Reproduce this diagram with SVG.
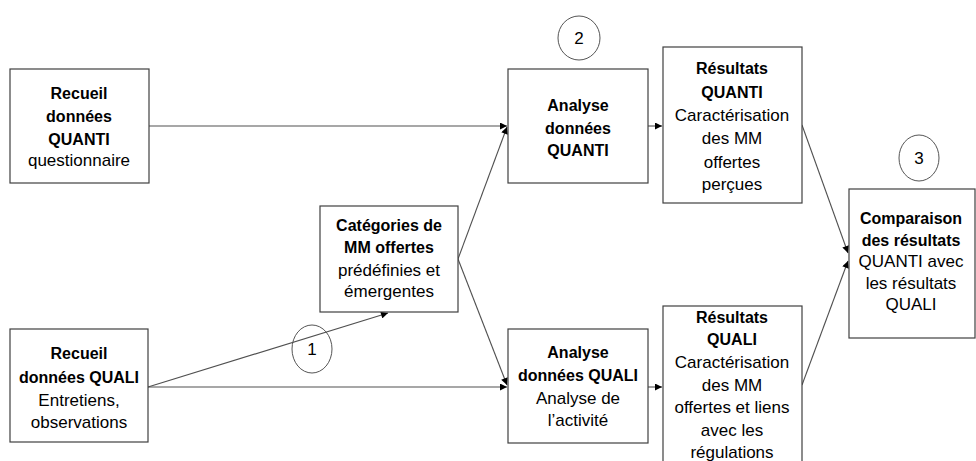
<svg xmlns="http://www.w3.org/2000/svg" width="976" height="461" viewBox="0 0 976 461">
<defs>
<style>
.box{fill:#fff;stroke:#404040;stroke-width:1.2}
.circ{fill:none;stroke:#555;stroke-width:1}
.ln{fill:none;stroke:#505050;stroke-width:1.1}
text{font-family:"Liberation Sans",Arial,sans-serif;font-size:17px;fill:#000;text-anchor:middle}
.b{font-weight:bold;font-size:16px}
</style>
<marker id="ah" viewBox="0 0 10 10" refX="10" refY="5" markerWidth="8" markerHeight="7" markerUnits="userSpaceOnUse" orient="auto">
<path d="M0,0 L10,5 L0,10 z" fill="#000"/>
</marker>
</defs>
<rect width="976" height="461" fill="#fff"/>
<g id="connectors">
<line class="ln" x1="149" y1="126" x2="507" y2="126" marker-end="url(#ah)"/>
<line class="ln" x1="148" y1="387" x2="507" y2="387" marker-end="url(#ah)"/>
<line class="ln" x1="148" y1="387" x2="388" y2="313" marker-end="url(#ah)"/>
<line class="ln" x1="458" y1="259" x2="507" y2="127" marker-end="url(#ah)"/>
<line class="ln" x1="458" y1="259" x2="507" y2="385" marker-end="url(#ah)"/>
<line class="ln" x1="648" y1="126" x2="662" y2="126" marker-end="url(#ah)"/>
<line class="ln" x1="648" y1="387" x2="662" y2="387" marker-end="url(#ah)"/>
<line class="ln" x1="802" y1="125" x2="848" y2="253" marker-end="url(#ah)"/>
<line class="ln" x1="802" y1="385" x2="848" y2="261" marker-end="url(#ah)"/>
</g>
<g id="recueil-quanti">
<rect class="box" x="10" y="69" width="139" height="114"/>
<text class="b" x="79" y="99">Recueil</text>
<text class="b" x="79" y="122">données</text>
<text class="b" x="79" y="145">QUANTI</text>
<text x="79" y="166">questionnaire</text>
</g>
<g id="recueil-quali">
<rect class="box" x="10" y="329" width="138" height="113"/>
<text class="b" x="79" y="359">Recueil</text>
<text class="b" x="79" y="383">données QUALI</text>
<text x="79" y="406">Entretiens,</text>
<text x="79" y="428">observations</text>
</g>
<g id="categories">
<rect class="box" x="320" y="206" width="138" height="106"/>
<text class="b" x="389" y="231">Catégories de</text>
<text class="b" x="389" y="253">MM offertes</text>
<text x="389" y="276">prédéfinies et</text>
<text x="389" y="297">émergentes</text>
</g>
<g id="analyse-quanti">
<rect class="box" x="508" y="69" width="140" height="114"/>
<text class="b" x="578" y="111">Analyse</text>
<text class="b" x="578" y="134">données</text>
<text class="b" x="578" y="156">QUANTI</text>
</g>
<g id="analyse-quali">
<rect class="box" x="508" y="329" width="140" height="114"/>
<text class="b" x="578" y="358">Analyse</text>
<text class="b" x="578" y="381">données QUALI</text>
<text x="578" y="404">Analyse de</text>
<text x="578" y="426">l’activité</text>
</g>
<g id="resultats-quanti">
<rect class="box" x="663" y="47" width="139" height="156"/>
<text class="b" x="732" y="74">Résultats</text>
<text class="b" x="732" y="98">QUANTI</text>
<text x="732" y="121">Caractérisation</text>
<text x="732" y="144">des MM</text>
<text x="732" y="168">offertes</text>
<text x="732" y="190">perçues</text>
</g>
<g id="resultats-quali">
<rect class="box" x="663" y="306" width="139" height="170"/>
<text class="b" x="732" y="323">Résultats</text>
<text class="b" x="732" y="345">QUALI</text>
<text x="732" y="368">Caractérisation</text>
<text x="732" y="391">des MM</text>
<text x="732" y="413">offertes et liens</text>
<text x="732" y="436">avec les</text>
<text x="732" y="458">régulations</text>
</g>
<g id="comparaison">
<rect class="box" x="849" y="189" width="126" height="149"/>
<text class="b" x="911" y="224">Comparaison</text>
<text class="b" x="911" y="246">des résultats</text>
<text x="911" y="267">QUANTI avec</text>
<text x="911" y="289">les résultats</text>
<text x="911" y="310">QUALI</text>
</g>
<g id="circle-1">
<ellipse class="circ" cx="312" cy="349" rx="20" ry="24"/>
<text x="312" y="355">1</text>
</g>
<g id="circle-2">
<ellipse class="circ" cx="579" cy="38" rx="21" ry="22"/>
<text x="579" y="44">2</text>
</g>
<g id="circle-3">
<ellipse class="circ" cx="919" cy="158" rx="20" ry="23"/>
<text x="919" y="164">3</text>
</g>
</svg>
